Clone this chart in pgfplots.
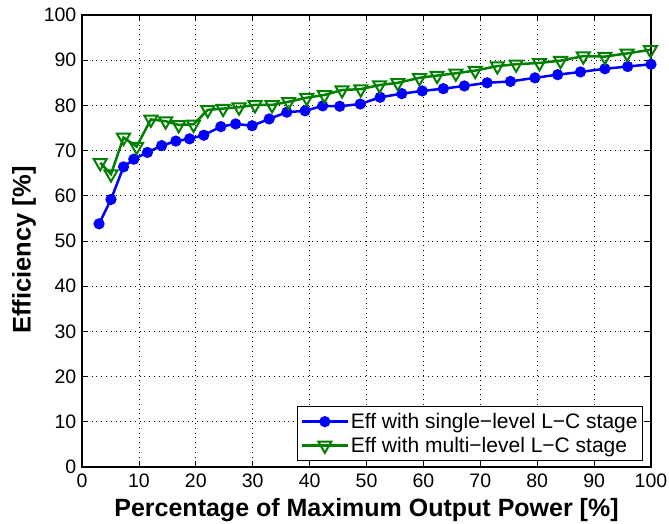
\documentclass[border=0pt]{standalone}
\usepackage{pgfplots}
\pgfplotsset{compat=1.18}
\usepackage{fontspec}
\setmainfont{Liberation Sans}
\definecolor{mblue}{RGB}{0,0,255}
\definecolor{mgreen}{RGB}{0,128,0}
\begin{document}
\begin{tikzpicture}
\path[use as bounding box] (-82pt,-57pt) rectangle (587pt,467pt);
\begin{axis}[
  at={(0pt,0pt)}, anchor=south west,
  scale only axis, width=569pt, height=452pt,
  xmin=0, xmax=100, ymin=0, ymax=100,
  xtick={0,10,...,100}, ytick={0,10,...,100},
  tick align=inside, major tick length=6pt,
  xtick pos=both, ytick pos=both,
  grid=major,
  major grid style={black, line width=0.7pt, dash pattern=on 0.8pt off 4pt},
  axis line style={line width=1.3pt},
  tick style={line width=0.8pt, black},
  /pgf/number format/assume math mode=true,
  ticklabel style={font=\fontsize{19.5}{21}\selectfont, inner sep=1pt},
  xticklabel style={yshift=-6pt},
  yticklabel style={xshift=-4.5pt},
  xlabel={Percentage of Maximum Output Power [\%]},
  ylabel={Efficiency [\%]},
  xlabel style={font=\bfseries\fontsize{25}{27}\selectfont,
    at={(axis description cs:0.5,0)}, anchor=center, yshift=-43pt},
  ylabel style={font=\bfseries\fontsize{25.5}{27}\selectfont,
    at={(axis description cs:0,0.5)}, anchor=center, yshift=58pt, xshift=-9pt},
  legend style={font=\fontsize{21}{23}\selectfont, draw=black, line width=0.8pt,
    at={(0.986,0.013)}, anchor=south east, inner ysep=5pt, inner xsep=3pt, row sep=3pt},
  legend cell align=left,
  legend image code/.code={%
    \draw[mark repeat=2,mark phase=2] plot coordinates {(0cm,0cm) (0.8cm,0cm) (1.6cm,0cm)};},
]
\addplot[color=mblue, line width=2.5pt, mark=*, mark size=4.3pt, mark options={fill=mblue}]
coordinates {
(3.0,53.8)(5.1,59.2)(7.3,66.4)(9.1,68.1)(11.5,69.6)(14.0,71.1)(16.5,72.1)(18.9,72.6)
(21.4,73.4)(24.4,75.3)(27.0,75.9)(29.9,75.5)(32.9,77.0)(36.0,78.5)(39.2,78.8)(42.3,79.9)
(45.3,79.8)(48.9,80.3)(52.4,81.8)(56.2,82.6)(59.8,83.2)(63.5,83.7)(67.2,84.3)(71.2,85.0)
(75.3,85.3)(79.6,86.1)(83.6,86.8)(87.6,87.4)(91.9,88.1)(95.9,88.6)(100,89.1)
};
\addlegendentry{Eff with single−level L−C stage}
\addplot[color=mgreen, line width=2.5pt, mark=triangle, mark size=7.5pt,
  mark options={rotate=180, fill=white, fill opacity=0, line width=2pt}]
coordinates {
(3.2,67.3)(5.1,64.8)(7.3,72.9)(9.6,70.9)(12.1,76.9)(14.7,76.5)(17.0,75.7)(19.6,75.8)
(22.1,79.0)(24.8,79.3)(27.6,79.6)(30.4,80.1)(33.4,80.1)(36.3,80.8)(39.5,81.7)(42.6,82.3)
(45.7,83.4)(49.0,83.6)(52.3,84.5)(55.5,85.0)(59.3,86.1)(62.4,86.6)(65.7,87.1)(69.1,87.7)
(73.0,88.7)(76.3,89.1)(80.4,89.4)(84.1,89.9)(88.1,90.9)(91.9,90.8)(95.8,91.5)(99.9,92.3)
};
\addlegendentry{Eff with multi−level L−C stage}
\end{axis}
\end{tikzpicture}
\end{document}
